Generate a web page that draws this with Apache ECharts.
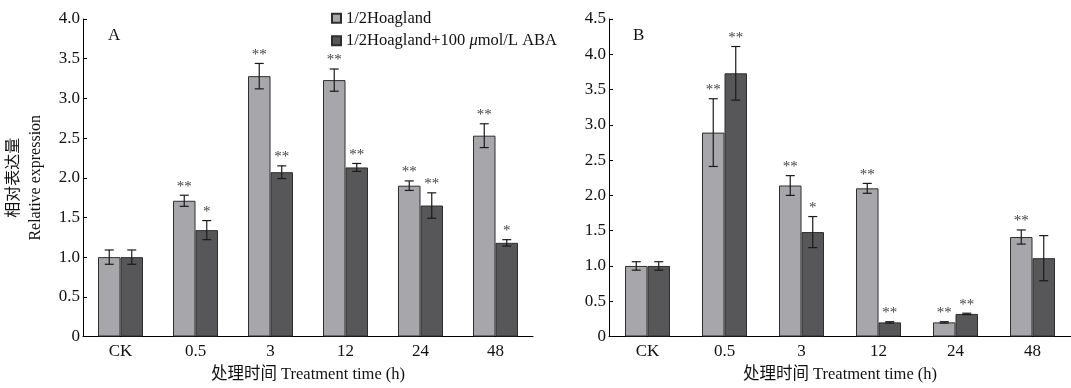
<!DOCTYPE html>
<html>
<head>
<meta charset="utf-8">
<script src="https://cdn.jsdelivr.net/npm/echarts@6/dist/echarts.min.js"></script>
<style>html,body{margin:0;padding:0;background:#fff}#c{width:1071px;height:388px}</style>
</head>
<body>
<div id="c"></div>
<script>
var categories = ['CK', '0.5', '3', '12', '24', '48'];
var seriesNames = ['1/2Hoagland', '1/2Hoagland+100 \u03bcmol/L ABA'];
// Panel A
var aHoag = [1.00, 1.71, 3.28, 3.23, 1.90, 2.53];
var aHoagErr = [0.09, 0.07, 0.16, 0.14, 0.06, 0.15];
var aHoagSig = ['', '**', '**', '**', '**', '**'];
var aAba = [1.00, 1.34, 2.07, 2.13, 1.65, 1.18];
var aAbaErr = [0.09, 0.12, 0.08, 0.05, 0.16, 0.04];
var aAbaSig = ['', '*', '**', '**', '**', '*'];
// Panel B
var bHoag = [1.00, 2.89, 2.14, 2.10, 0.20, 1.41];
var bHoagErr = [0.06, 0.48, 0.14, 0.07, 0.01, 0.10];
var bHoagSig = ['', '**', '**', '**', '**', '**'];
var bAba = [1.00, 3.73, 1.48, 0.20, 0.32, 1.11];
var bAbaErr = [0.06, 0.38, 0.22, 0.01, 0.01, 0.32];
var bAbaSig = ['', '**', '*', '**', '**', ''];

var FONT = '"Liberation Serif", "Noto Sans CJK SC", serif';
var LIGHT = '#a7a6ab', DARK = '#575658', EDGE = '#2e2e2e';
var BW = 22.5;
var FS = 17;

function barSeries(name, data, color, idx) {
  return {
    name: name, type: 'bar', data: data, xAxisIndex: idx, yAxisIndex: idx,
    barWidth: BW, barGap: '0%',
    itemStyle: { color: color, borderColor: EDGE, borderWidth: 1 },
    z: 2
  };
}
function errSeries(vals, errs, sigs, side, idx) {
  var data = vals.map(function (v, i) { return [i, v, errs[i]]; });
  return {
    type: 'custom', xAxisIndex: idx, yAxisIndex: idx, z: 5, silent: true,
    data: data,
    renderItem: function (params, api) {
      var i = api.value(0), v = api.value(1), e = api.value(2);
      var hi = api.coord([i, v + e]), lo = api.coord([i, v - e]);
      var x = hi[0] + side * BW / 2;
      var cap = 4.5;
      var children = [
        { type: 'line', shape: { x1: x, y1: hi[1], x2: x, y2: lo[1] }, style: { stroke: '#1a1a1a', lineWidth: 1.2 } },
        { type: 'line', shape: { x1: x - cap, y1: hi[1], x2: x + cap, y2: hi[1] }, style: { stroke: '#1a1a1a', lineWidth: 1.2 } },
        { type: 'line', shape: { x1: x - cap, y1: lo[1], x2: x + cap, y2: lo[1] }, style: { stroke: '#1a1a1a', lineWidth: 1.2 } }
      ];
      var s = sigs[params.dataIndex];
      if (s) {
        children.push({ type: 'text', style: { text: s, x: x, y: hi[1] - 1, align: 'center', verticalAlign: 'bottom', fill: '#444', font: '15px "Liberation Serif", serif' } });
      }
      return { type: 'group', children: children };
    }
  };
}
function yAxisCfg(idx, max, withName) {
  var o = {
    type: 'value', gridIndex: idx, min: 0, max: max, interval: 0.5,
    axisLine: { show: true, lineStyle: { color: '#000', width: 1 } },
    axisTick: { show: true, inside: true, length: 4, lineStyle: { color: '#000' } },
    splitLine: { show: false },
    axisLabel: { color: '#111', fontSize: FS, fontFamily: FONT, margin: 3,
      formatter: function (v) { return v === 0 ? '0' : v.toFixed(1); } }
  };
  if (withName) {
    o.name = '\u76f8\u5bf9\u8868\u8fbe\u91cf\nRelative expression';
    o.nameLocation = 'middle';
    o.nameGap = 36;
    o.nameTextStyle = { color: '#111', fontSize: 16, fontFamily: FONT, lineHeight: 22 };
  }
  return o;
}
function xAxisCfg(idx) {
  return {
    type: 'category', gridIndex: idx, data: categories,
    axisLine: { show: true, lineStyle: { color: '#000', width: 1 } },
    axisTick: { show: false },
    axisLabel: { color: '#111', fontSize: FS, fontFamily: FONT, margin: 7 },
    name: '\u5904\u7406\u65f6\u95f4 Treatment time (h)', nameLocation: 'middle', nameGap: 30,
    nameTextStyle: { color: '#111', fontSize: 16.5, fontFamily: FONT }
  };
}

var chart = echarts.init(document.getElementById('c'), null, { renderer: 'canvas' });
chart.setOption({
  animation: false,
  backgroundColor: '#fff',
  title: [
    { text: 'A', left: 103, top: 22, textStyle: { fontSize: FS, fontWeight: 'normal', fontFamily: FONT, color: '#111' } },
    { text: 'B', left: 628, top: 22, textStyle: { fontSize: FS, fontWeight: 'normal', fontFamily: FONT, color: '#111' } }
  ],
  legend: {
    orient: 'vertical', left: 326, top: 5, itemWidth: 9, itemHeight: 9, itemGap: 6,
    icon: 'rect',
    textStyle: { fontSize: 16.5, fontFamily: FONT, color: '#111',
      rich: { i: { fontSize: 16.5, fontFamily: FONT, fontStyle: 'italic', color: '#111' } } },
    formatter: function (name) { return name.replace('\u03bc', '{i|\u03bc}'); },
    data: seriesNames
  },
  grid: [
    { left: 83, top: 19, width: 450, height: 318 },
    { left: 609, top: 19, width: 462, height: 318 }
  ],
  xAxis: [xAxisCfg(0), xAxisCfg(1)],
  yAxis: [yAxisCfg(0, 4, true), yAxisCfg(1, 4.5, false)],
  series: [
    barSeries(seriesNames[0], aHoag, LIGHT, 0),
    barSeries(seriesNames[1], aAba, DARK, 0),
    barSeries(seriesNames[0], bHoag, LIGHT, 1),
    barSeries(seriesNames[1], bAba, DARK, 1),
    errSeries(aHoag, aHoagErr, aHoagSig, -1, 0),
    errSeries(aAba, aAbaErr, aAbaSig, 1, 0),
    errSeries(bHoag, bHoagErr, bHoagSig, -1, 1),
    errSeries(bAba, bAbaErr, bAbaSig, 1, 1)
  ]
});
</script>
</body>
</html>
